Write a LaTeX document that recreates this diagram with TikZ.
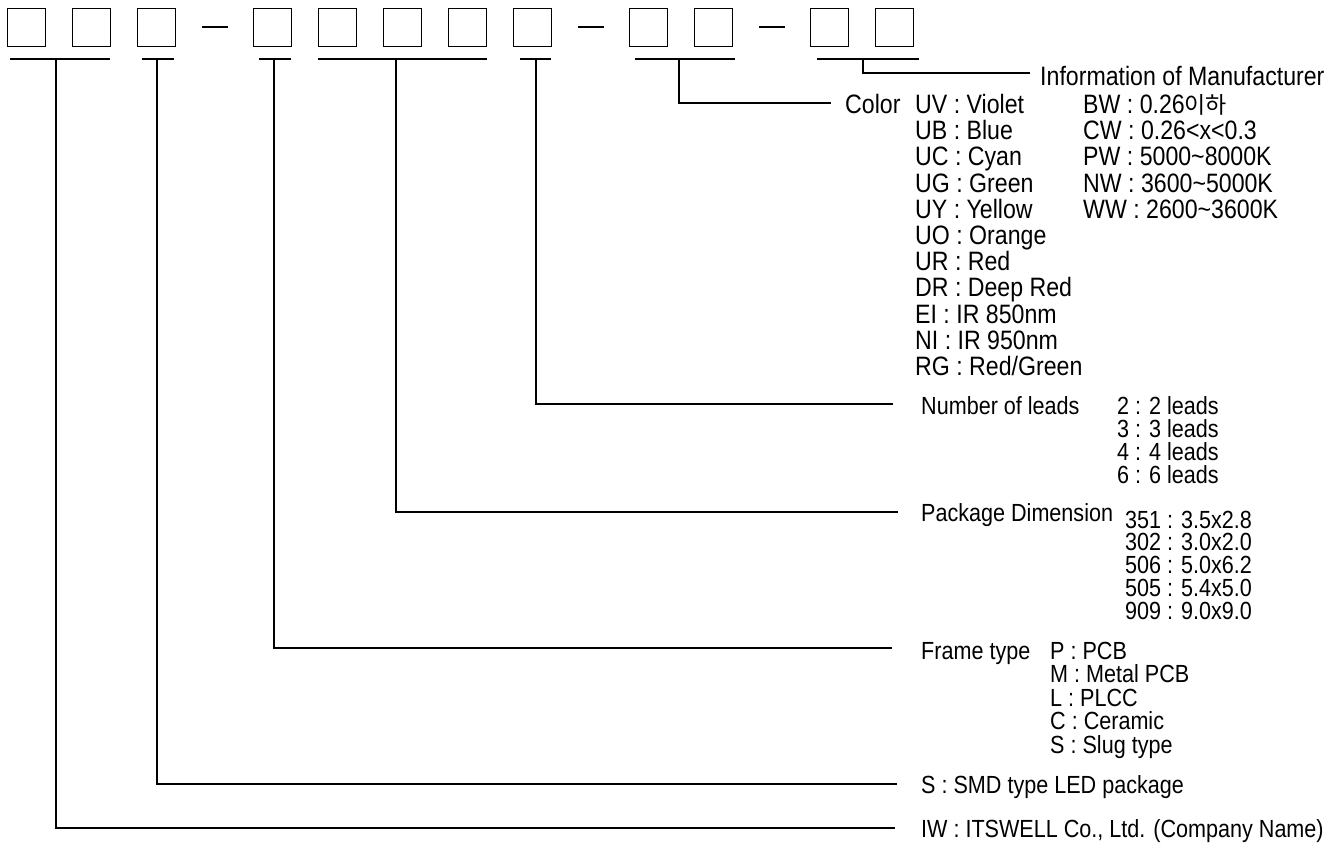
\documentclass[tikz,border=0pt]{standalone}
\usepackage{fontspec}
\setmainfont{Liberation Sans}[FakeStretch=0.87]
\newfontfamily\krfont{Noto Sans CJK KR}
\newcommand\mystack[1]{\vtop{\halign{##\hfil\cr#1\crcr}}}
\begin{document}
\begin{tikzpicture}[x=1pt,y=-1pt,
  digit/.style={draw, line width=1.3pt, minimum size=38pt, inner sep=0pt},
  bar/.style={line width=2pt},
  lead/.style={line width=1.4pt},
  hyph/.style={line width=2pt},
  big/.style={font=\fontsize{26.6}{26.2}\selectfont, anchor=base west, inner sep=0pt},
  small/.style={font=\fontsize{24.8}{23.3}\selectfont, anchor=base west, inner sep=0pt}]
\useasboundingbox (0,0) rectangle (1340,851);
% digit boxes
\foreach \n/\x in {1/7,2/72,3/137,4/253,5/318,6/383,7/448,8/513,9/629,10/694,11/810,12/875}
  \node[digit] (b\n) at (\x+19.5,27.5) {};
% hyphens
\draw[hyph] (b3.east) ++(26,0) -- ++(26,0);
\draw[hyph] (b8.east) ++(26,0) -- ++(26,0);
\draw[hyph] (b10.east) ++(26,0) -- ++(26,0);
% underline bars
\draw[bar] (10,59) -- (110,59);
\draw[bar] (142,59) -- (174,59);
\draw[bar] (259,59) -- (291,59);
\draw[bar] (318,59) -- (487,59);
\draw[bar] (520,59) -- (551,59);
\draw[bar] (635,59) -- (735,59);
\draw[bar] (817,59) -- (919,59);
\coordinate (t1) at (56,59);
\coordinate (t2) at (157,59);
\coordinate (t3) at (274,59);
\coordinate (t4) at (396,59);
\coordinate (t5) at (536,59);
\coordinate (t6) at (679,59);
\coordinate (t7) at (863,59);
\coordinate (e1) at (895,828);
\coordinate (e2) at (897,784);
\coordinate (e3) at (892,648);
\coordinate (e4) at (898,512);
\coordinate (e5) at (893,404);
\coordinate (e6) at (831,103);
\coordinate (e7) at (1030,73);
\foreach \i in {1,...,7} \draw[lead] (t\i) |- (e\i);
% labels
\node[big] (info) at (1040,85.5) {Information of Manufacturer};
\node[big] (color) at (845,113.5) {Color};
\node[big] (colu) at (915,113.5) {\mystack{UV : Violet\cr UB : Blue\cr UC : Cyan\cr UG : Green\cr UY : Yellow\cr UO : Orange\cr UR : Red\cr DR : Deep Red\cr EI : IR 850nm\cr NI : IR 950nm\cr RG : Red/Green}};
\node[big] (colw) at (1083,113.5) {\mystack{BW : 0.26{\krfont\fontsize{23}{26}\selectfont 이하}\cr CW : 0.26<x<0.3\cr PW : 5000\textasciitilde 8000K\cr NW : 3600\textasciitilde 5000K\cr WW : 2600\textasciitilde 3600K}};
\node[small] (leads) at (921,414) {Number of leads};
\node[small] (leadl) at (1117,414) {\mystack{2 : 2 leads\cr 3 : 3 leads\cr 4 : 4 leads\cr 6 : 6 leads}};
\node[small] (pkg) at (921,521) {Package Dimension};
\node[small, font=\fontsize{24.8}{22.75}\selectfont] (pkgl) at (1125,528) {\mystack{351 : 3.5x2.8\cr 302 : 3.0x2.0\cr 506 : 5.0x6.2\cr 505 : 5.4x5.0\cr 909 : 9.0x9.0}};
\node[small] (frame) at (921,659) {Frame type};
\node[small, font=\fontsize{24.8}{23.5}\selectfont] (framel) at (1050,659) {\mystack{P : PCB\cr M : Metal PCB\cr L : PLCC\cr C : Ceramic\cr S : Slug type}};
\node[small] (smd) at (921,793) {S : SMD type LED package};
\node[small] (iw) at (921,837) {IW : ITSWELL Co., Ltd. (Company Name)};
\end{tikzpicture}
\end{document}
